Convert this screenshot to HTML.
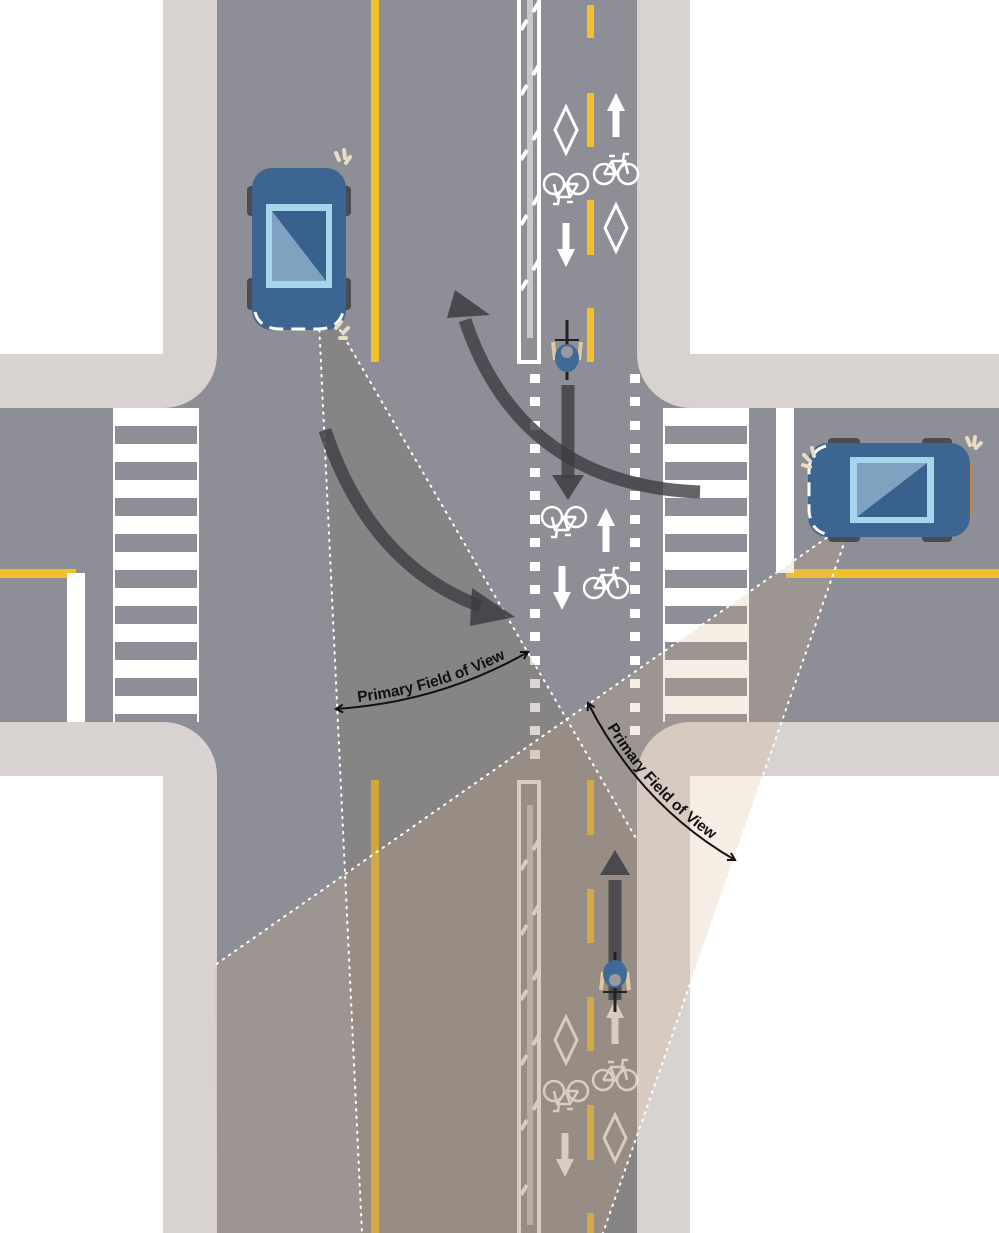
<!DOCTYPE html>
<html><head><meta charset="utf-8"><style>html,body{margin:0;padding:0;background:#fff;width:999px;height:1233px;overflow:hidden}svg{display:block;overflow:hidden}</style></head>
<body>
<svg width="999" height="1233" viewBox="0 0 999 1233" xmlns="http://www.w3.org/2000/svg" font-family="Liberation Sans, sans-serif">
<defs>
  <g id="bike" fill="none" stroke="#fff" stroke-width="2.5">
    <circle cx="-12" cy="6" r="10"/><circle cx="12" cy="6" r="10"/>
    <path d="M-12 6 L-4 -7 L9 -7 L12 6 M-4 -7 L0 6 L9 -7 M0 6 L-12 6 M-7 -12 L-1 -12 M7 -7 L8 -14 L13 -14"/>
  </g>
  <g id="diam"><polygon points="0,-23 11,0 0,23 -11,0" fill="none" stroke="#fff" stroke-width="3"/></g>
  <g id="arr"><rect x="-3.5" y="-4" width="7" height="26" fill="#fff"/><polygon points="-9,-4 9,-4 0,-22" fill="#fff"/></g>
  <g id="car">
    <rect x="-52" y="-62" width="12" height="30" rx="4" fill="#4a4c52"/>
    <rect x="40" y="-62" width="12" height="30" rx="4" fill="#4a4c52"/>
    <rect x="-52" y="30" width="12" height="32" rx="4" fill="#4a4c52"/>
    <rect x="40" y="30" width="12" height="32" rx="4" fill="#4a4c52"/>
    <path d="M-40 -64 Q-44 -80 -20 -81 L20 -81 Q44 -80 40 -64" fill="#d8822a"/>
    <rect x="-47" y="-80" width="94" height="162" rx="20" fill="#3d6592"/>
    <rect x="-33" y="-44" width="66" height="84" fill="#a6d6ee"/>
    <rect x="-27" y="-37" width="54" height="70" fill="#39618d"/>
    <polygon points="-27,-37 27,33 -27,33" fill="#7ea2c0"/>
    <path d="M-44 64 Q-40 80 -20 81 L20 81 Q40 80 44 64" fill="none" stroke="#fff" stroke-width="3" stroke-dasharray="14 8"/>
  </g>
  <g id="cyc">
    <rect x="-1.5" y="-30" width="3" height="60" fill="#222"/>
    <path d="M-12 -10 L-14 8 M12 -10 L14 8" stroke="#e0c8a0" stroke-width="4"/>
    <ellipse cx="0" cy="-8" rx="12" ry="14" fill="#3f6a98"/>
    <circle cx="0" cy="-2" r="6" fill="#9a9a9e"/>
    <path d="M-12 10 H12" stroke="#222" stroke-width="2"/>
  </g>
  <marker id="ah" markerWidth="10" markerHeight="10" refX="8" refY="5" orient="auto-start-reverse" markerUnits="userSpaceOnUse">
    <path d="M1 1 L8 5 L1 9" fill="none" stroke="#111" stroke-width="2"/>
  </marker>
  <clipPath id="road"><rect x="217" y="0" width="420" height="1233"/></clipPath>
</defs>

<rect width="999" height="1233" fill="#8e8f96"/>
<path d="M0 0 H217 V354 A54 54 0 0 1 163 408 H0 Z" fill="#d8d3d1"/>
<path d="M637 0 H999 V408 H691 A54 54 0 0 1 637 354 Z" fill="#d8d3d1"/>
<path d="M0 722 H163 A54 54 0 0 1 217 776 V1233 H0 Z" fill="#d8d3d1"/>
<path d="M637 1233 V776 A54 54 0 0 1 691 722 H999 V1233 Z" fill="#d8d3d1"/>
<rect x="0" y="0" width="163" height="354" fill="#fff"/>
<rect x="690" y="0" width="309" height="354" fill="#fff"/>
<rect x="0" y="776" width="163" height="457" fill="#fff"/>
<rect x="690" y="776" width="309" height="457" fill="#fff"/>

<rect x="371" y="0" width="8" height="362" fill="#f2c02a"/>
<rect x="371" y="780" width="8" height="453" fill="#f2c02a"/>
<g fill="#f2c02a">
  <rect x="587" y="5" width="7" height="33"/><rect x="587" y="93" width="7" height="54"/>
  <rect x="587" y="200" width="7" height="55"/><rect x="587" y="308" width="7" height="54"/>
  <rect x="587" y="780" width="7" height="55"/><rect x="587" y="889" width="7" height="54"/>
  <rect x="587" y="997" width="7" height="54"/><rect x="587" y="1105" width="7" height="55"/>
  <rect x="587" y="1213" width="7" height="20"/>
</g>
<rect x="0" y="569" width="76" height="9" fill="#f2c02a"/>
<rect x="67" y="573" width="18" height="149" fill="#fff"/>
<rect x="786" y="569" width="213" height="9" fill="#f2c02a"/>
<rect x="776" y="408" width="18" height="165" fill="#fff"/>

<g>
  <rect x="519" y="-4" width="20" height="366" fill="none" stroke="#fff" stroke-width="4"/>
  <rect x="527" y="0" width="6" height="338" fill="#c9c9cc"/>
  <g stroke="#fff" stroke-width="4">
    <path d="M521 30 L527 20 M533 12 L539 2 M521 95 L527 85 M533 75 L539 65 M521 160 L527 150 M533 140 L539 130 M521 225 L527 215 M533 205 L539 195 M521 290 L527 280 M533 270 L539 260"/>
  </g>
  <rect x="519" y="782" width="20" height="460" fill="none" stroke="#fff" stroke-width="4"/>
  <rect x="527" y="805" width="6" height="420" fill="#c9c9cc"/>
  <g stroke="#fff" stroke-width="4">
    <path d="M521 870 L527 860 M533 850 L539 840 M521 935 L527 925 M533 915 L539 905 M521 1000 L527 990 M533 980 L539 970 M521 1065 L527 1055 M533 1045 L539 1035 M521 1130 L527 1120 M533 1110 L539 1100 M521 1195 L527 1185"/>
  </g>
</g>

<g fill="#fff">
  <rect x="113" y="408" width="2" height="314"/><rect x="197" y="408" width="2" height="314"/>
  <rect x="663" y="408" width="2" height="314"/><rect x="747" y="408" width="2" height="314"/>
  <rect x="113" y="408" width="86" height="18"/><rect x="113" y="444" width="86" height="18"/>
  <rect x="113" y="480" width="86" height="18"/><rect x="113" y="516" width="86" height="18"/>
  <rect x="113" y="552" width="86" height="18"/><rect x="113" y="588" width="86" height="18"/>
  <rect x="113" y="624" width="86" height="18"/><rect x="113" y="660" width="86" height="18"/>
  <rect x="113" y="696" width="86" height="18"/>
  <rect x="663" y="408" width="86" height="18"/><rect x="663" y="444" width="86" height="18"/>
  <rect x="663" y="480" width="86" height="18"/><rect x="663" y="516" width="86" height="18"/>
  <rect x="663" y="552" width="86" height="18"/><rect x="663" y="588" width="86" height="18"/>
  <rect x="663" y="624" width="86" height="18"/><rect x="663" y="660" width="86" height="18"/>
  <rect x="663" y="696" width="86" height="18"/>
</g>

<g fill="#fff">
  <rect x="530" y="374" width="10" height="9"/><rect x="630" y="374" width="10" height="9"/>
  <rect x="530" y="397" width="10" height="9"/><rect x="630" y="397" width="10" height="9"/>
  <rect x="530" y="421" width="10" height="9"/><rect x="630" y="421" width="10" height="9"/>
  <rect x="530" y="444" width="10" height="9"/><rect x="630" y="444" width="10" height="9"/>
  <rect x="530" y="468" width="10" height="9"/><rect x="630" y="468" width="10" height="9"/>
  <rect x="530" y="491" width="10" height="9"/><rect x="630" y="491" width="10" height="9"/>
  <rect x="530" y="515" width="10" height="9"/><rect x="630" y="515" width="10" height="9"/>
  <rect x="530" y="538" width="10" height="9"/><rect x="630" y="538" width="10" height="9"/>
  <rect x="530" y="562" width="10" height="9"/><rect x="630" y="562" width="10" height="9"/>
  <rect x="530" y="585" width="10" height="9"/><rect x="630" y="585" width="10" height="9"/>
  <rect x="530" y="609" width="10" height="9"/><rect x="630" y="609" width="10" height="9"/>
  <rect x="530" y="632" width="10" height="9"/><rect x="630" y="632" width="10" height="9"/>
  <rect x="530" y="656" width="10" height="9"/><rect x="630" y="656" width="10" height="9"/>
  <rect x="530" y="679" width="10" height="9"/><rect x="630" y="679" width="10" height="9"/>
  <rect x="530" y="703" width="10" height="9"/><rect x="630" y="703" width="10" height="9"/>
  <rect x="530" y="726" width="10" height="9"/><rect x="630" y="726" width="10" height="9"/>
  <rect x="530" y="750" width="10" height="9"/>
</g>

<use href="#diam" x="566" y="130"/>
<use href="#bike" transform="translate(566,190) rotate(180)"/>
<use href="#arr" transform="translate(566,245) rotate(180)"/>
<use href="#arr" x="616" y="115"/>
<use href="#bike" x="616" y="168"/>
<use href="#diam" x="616" y="228"/>

<use href="#bike" transform="translate(564,523) rotate(180)"/>
<use href="#arr" transform="translate(562,588) rotate(180)"/>
<use href="#arr" x="606" y="530"/>
<use href="#bike" x="606" y="582"/>

<use href="#diam" x="566" y="1040"/>
<use href="#bike" transform="translate(566,1097) rotate(180)"/>
<use href="#arr" transform="translate(565,1155) rotate(180)"/>
<use href="#arr" x="615" y="1022"/>
<use href="#bike" x="615" y="1074"/>
<use href="#diam" x="615" y="1138"/>

<polygon points="318,300 340,330 637,840 637,1233 362,1233" fill="rgba(120,105,90,0.27)" clip-path="url(#road)"/>
<polygon points="845,525 215,965 217,1233 603,1233 848,532" fill="rgba(215,175,130,0.22)"/>
<path d="M318 300 L362 1233" stroke="#fff" stroke-width="2" stroke-dasharray="1.5 6" stroke-linecap="round" fill="none"/>
<path d="M340 330 L637 840" stroke="#fff" stroke-width="2" stroke-dasharray="1.5 6" stroke-linecap="round" fill="none"/>
<path d="M845 525 L215 965" stroke="#fff" stroke-width="2" stroke-dasharray="1.5 6" stroke-linecap="round" fill="none"/>
<path d="M848 532 L603 1233" stroke="#fff" stroke-width="2" stroke-dasharray="1.5 6" stroke-linecap="round" fill="none"/>

<g fill="none" stroke="#3c3d42" stroke-opacity="0.8" stroke-width="13">
  <path d="M325 430 Q370 565 480 606"/>
  <path d="M700 492 Q520 485 465 320"/>
  <path d="M568 385 V478"/>
  <path d="M615 1000 V880"/>
</g>
<g fill="#3c3d42" fill-opacity="0.85">
  <polygon points="472,588 515,617 470,626"/>
  <polygon points="447,318 455,290 490,315"/>
  <polygon points="552,475 584,475 568,500"/>
  <polygon points="600,875 630,875 615,850"/>
</g>

<use href="#car" x="299" y="248"/>
<use href="#car" transform="translate(890,490) rotate(90)"/>
<g stroke="#e8dcc4" stroke-width="4" stroke-linecap="round">
  <path d="M336 153 L339 160 M344 150 L345 158 M350 157 L346 163"/>
  <path d="M336 328 L341 322 M343 333 L348 328 M340 338 L346 338"/>
  <path d="M804 455 L810 461 M803 465 L810 467 M812 448 L814 456"/>
  <path d="M967 438 L970 445 M975 437 L974 445 M981 443 L976 448"/>
</g>

<use href="#cyc" transform="translate(567,350) rotate(180)"/>
<use href="#cyc" x="615" y="982"/>

<path id="l1" d="M336 709 Q440 702 528 652" fill="none" stroke="#111" stroke-width="2" marker-start="url(#ah)" marker-end="url(#ah)"/>
<text font-size="15.5" font-weight="bold" fill="#111"><textPath href="#l1" startOffset="50%" text-anchor="middle"><tspan dy="-5">Primary Field of View</tspan></textPath></text>
<path id="l2" d="M588 703 Q640 805 735 860" fill="none" stroke="#111" stroke-width="2" marker-start="url(#ah)" marker-end="url(#ah)"/>
<text font-size="15.5" font-weight="bold" fill="#111"><textPath href="#l2" startOffset="50%" text-anchor="middle"><tspan dy="-5">Primary Field of View</tspan></textPath></text>
</svg>
</body></html>
